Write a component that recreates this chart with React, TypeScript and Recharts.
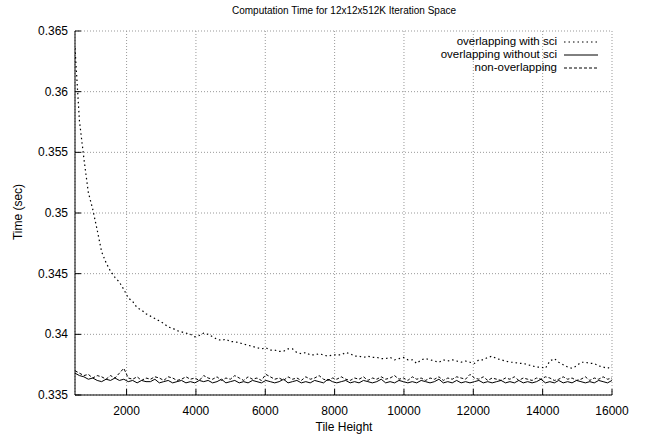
import React from "react";
import { LineChart, Line, XAxis, YAxis, CartesianGrid } from "recharts";

const tileHeights = [
  512, 640, 768, 896, 1024, 1152, 1280, 1408, 1536, 1664,
  1792, 1920, 2048, 2176, 2304, 2432, 2560, 2688, 2816, 2944,
  3072, 3200, 3328, 3456, 3584, 3712, 3840, 3968, 4096, 4224,
  4352, 4480, 4608, 4736, 4864, 4992, 5120, 5248, 5376, 5504,
  5632, 5760, 5888, 6016, 6144, 6272, 6400, 6528, 6656, 6784,
  6912, 7040, 7168, 7296, 7424, 7552, 7680, 7808, 7936, 8064,
  8192, 8320, 8448, 8576, 8704, 8832, 8960, 9088, 9216, 9344,
  9472, 9600, 9728, 9856, 9984, 10112, 10240, 10368, 10496, 10624,
  10752, 10880, 11008, 11136, 11264, 11392, 11520, 11648, 11776, 11904,
  12032, 12160, 12288, 12416, 12544, 12672, 12800, 12928, 13056, 13184,
  13312, 13440, 13568, 13696, 13824, 13952, 14080, 14208, 14336, 14464,
  14592, 14720, 14848, 14976, 15104, 15232, 15360, 15488, 15616, 15744,
  15872, 16000,
];

const withSci = [
  0.3636, 0.3576, 0.3545, 0.3517, 0.3503, 0.3486, 0.3468, 0.3459, 0.3452, 0.3447,
  0.3443, 0.3437, 0.343, 0.3427, 0.3422, 0.342, 0.3417, 0.3415, 0.3413, 0.3411,
  0.3409, 0.3406, 0.3405, 0.3403, 0.3402, 0.3401, 0.34, 0.3398, 0.3399, 0.3401,
  0.34, 0.3398, 0.3396, 0.3395, 0.3396, 0.3394, 0.3394, 0.3393, 0.3392, 0.3391,
  0.339, 0.3389, 0.3388, 0.3389, 0.3387, 0.3387, 0.3386, 0.3386, 0.3388, 0.3388,
  0.3385, 0.3384, 0.3385, 0.3383, 0.3383, 0.3384, 0.3383, 0.3382, 0.3383, 0.3383,
  0.3383, 0.3385, 0.3384, 0.3382, 0.3382, 0.3381, 0.3382, 0.3381, 0.3381, 0.338,
  0.338, 0.3381, 0.3379, 0.338, 0.3381, 0.3379, 0.3379, 0.3376, 0.3379, 0.338,
  0.3379, 0.3378, 0.3377, 0.3379, 0.3378, 0.3379, 0.3378, 0.3377, 0.3378, 0.3377,
  0.3376, 0.3379, 0.3379, 0.3381, 0.3382, 0.338, 0.3379, 0.3378, 0.3377, 0.3377,
  0.3376, 0.3376, 0.3375, 0.3374, 0.3373, 0.3373, 0.3372, 0.3378, 0.338, 0.3377,
  0.3375, 0.3373, 0.3372, 0.3374, 0.3377, 0.3377, 0.3376, 0.3376, 0.3374, 0.3373,
  0.3372, 0.3374,
];

const withoutSci = [
  0.3368, 0.3366, 0.3365, 0.3363, 0.3364, 0.3362, 0.3361, 0.3363, 0.3362, 0.3364,
  0.3362, 0.3363, 0.3361, 0.3362, 0.336, 0.3362, 0.3361, 0.3361, 0.3363, 0.336,
  0.3361, 0.3362, 0.336, 0.3361, 0.3362, 0.336, 0.3361, 0.336, 0.3362, 0.3361,
  0.3362, 0.336, 0.3361, 0.3363, 0.336, 0.3361, 0.3362, 0.336, 0.3361, 0.336,
  0.3362, 0.3361, 0.336, 0.3362, 0.3361, 0.336, 0.3361, 0.3363, 0.336, 0.3361,
  0.3362, 0.336, 0.3361, 0.336, 0.3362, 0.3361, 0.336, 0.3363, 0.3361, 0.336,
  0.3361, 0.3362, 0.336, 0.3361, 0.336, 0.3362, 0.3361, 0.336, 0.3361, 0.3363,
  0.336, 0.3361, 0.336, 0.3362, 0.3361, 0.336, 0.3361, 0.336, 0.3362, 0.3361,
  0.336, 0.3361, 0.3363, 0.336, 0.3361, 0.336, 0.3362, 0.336, 0.3361, 0.336,
  0.3361, 0.3362, 0.336, 0.3361, 0.336, 0.3361, 0.3362, 0.336, 0.3361, 0.336,
  0.3362, 0.336, 0.3361, 0.336, 0.3361, 0.3363, 0.336, 0.3361, 0.336, 0.3362,
  0.336, 0.3361, 0.336, 0.3362, 0.3361, 0.336, 0.3361, 0.336, 0.3362, 0.3361,
  0.336, 0.3362,
];

const nonOverlapping = [
  0.337, 0.3368, 0.3366, 0.3367, 0.3364, 0.3366, 0.3365, 0.3363, 0.3366, 0.3364,
  0.3368, 0.3372, 0.3364, 0.3363, 0.3365, 0.3362, 0.3364, 0.3363, 0.3365, 0.3364,
  0.3362, 0.3365, 0.3364, 0.3362, 0.3363, 0.3365, 0.3363, 0.3364, 0.3362, 0.3366,
  0.3364, 0.3363, 0.3365, 0.3362, 0.3364, 0.3363, 0.3366, 0.3364, 0.3362, 0.3365,
  0.3363, 0.3364, 0.3362, 0.3367, 0.3365, 0.3363, 0.3364, 0.3362, 0.3365, 0.3363,
  0.3364, 0.3362, 0.3365, 0.3363, 0.3364, 0.3366, 0.3363, 0.3362, 0.3364, 0.3363,
  0.3365, 0.3363, 0.3362, 0.3364, 0.3363, 0.3365, 0.3362, 0.3364, 0.3363, 0.3365,
  0.3363, 0.3364, 0.3366, 0.3363, 0.3364, 0.3362, 0.3365, 0.3363, 0.3364, 0.3362,
  0.3364, 0.3363, 0.3365, 0.3362, 0.3364, 0.3363, 0.3365, 0.3364, 0.3363, 0.3367,
  0.3364, 0.3363, 0.3365, 0.3362, 0.3364, 0.3363, 0.3362, 0.3364, 0.3363, 0.3365,
  0.3362, 0.3364, 0.3363, 0.3362, 0.3364, 0.3363, 0.3365, 0.3364, 0.3362, 0.3363,
  0.3365, 0.3363, 0.3364, 0.3362, 0.3363, 0.3365, 0.3362, 0.3364, 0.3363, 0.3365,
  0.3363, 0.3364,
];

const xTicks = [2000, 4000, 6000, 8000, 10000, 12000, 14000, 16000];
const yTicks = [0.335, 0.34, 0.345, 0.35, 0.355, 0.36, 0.365];

const FONT = "'Liberation Sans', Arial, Helvetica, sans-serif";
const FS = 12;

const data = tileHeights.map((h, i) => ({
  h,
  withSci: withSci[i],
  withoutSci: withoutSci[i],
  nonOverlapping: nonOverlapping[i],
}));

const BottomTick = (props: any) => {
  const { x, y, payload } = props;
  return (
    <g>
      <line x1={x} y1={y} x2={x} y2={y - 6} stroke="#000" />
      <text x={x} y={y + 20} textAnchor="middle" fontSize={FS} fontFamily={FONT} fill="#000">
        {payload.value}
      </text>
    </g>
  );
};

const TopTick = (props: any) => {
  const { x, y } = props;
  return <line x1={x} y1={y} x2={x} y2={y + 6} stroke="#000" />;
};

const LeftTick = (props: any) => {
  const { x, y, payload } = props;
  return (
    <g>
      <line x1={x} y1={y} x2={x + 6} y2={y} stroke="#000" />
      <text x={x - 7} y={y + 4} textAnchor="end" fontSize={FS} fontFamily={FONT} fill="#000">
        {String(payload.value)}
      </text>
    </g>
  );
};

const RightTick = (props: any) => {
  const { x, y } = props;
  return <line x1={x} y1={y} x2={x - 6} y2={y} stroke="#000" />;
};

const legendRows = [
  { label: "overlapping with sci", dash: "1.5 3" },
  { label: "overlapping without sci", dash: undefined },
  { label: "non-overlapping", dash: "3 2" },
];

export default function App() {
  return (
    <div style={{ position: "absolute", left: 0, top: 0, width: 648, height: 434, background: "#fff" }}>
      <div
        style={{
          position: "absolute",
          top: 5,
          left: 0,
          width: 688,
          textAlign: "center",
          fontFamily: FONT,
          fontSize: 10,
        }}
      >
        Computation Time for 12x12x512K Iteration Space
      </div>
      <div
        style={{
          position: "absolute",
          left: 18,
          top: 212,
          transform: "translate(-50%, -50%) rotate(-90deg)",
          whiteSpace: "nowrap",
          fontFamily: FONT,
          fontSize: FS,
        }}
      >
        Time (sec)
      </div>
      <div
        style={{
          position: "absolute",
          top: 420,
          left: 0,
          width: 688,
          textAlign: "center",
          fontFamily: FONT,
          fontSize: FS,
        }}
      >
        Tile Height
      </div>
      <div
        style={{
          position: "absolute",
          top: 35,
          right: 46,
          fontFamily: FONT,
          fontSize: 11.5,
          lineHeight: "13px",
          zIndex: 2,
        }}
      >
        {legendRows.map((r) => (
          <div key={r.label} style={{ display: "flex", justifyContent: "flex-end", alignItems: "center", height: 13 }}>
            <span>{r.label}</span>
            <svg width={40} height={12} style={{ marginLeft: 5 }}>
              <line x1={2} y1={6} x2={36} y2={6} stroke="#000" strokeWidth={1} strokeDasharray={r.dash} />
            </svg>
          </div>
        ))}
      </div>
      <LineChart width={648} height={434} data={data} margin={{ top: 31, right: 36, bottom: 0, left: 0 }}>
        <CartesianGrid stroke="#999" strokeDasharray="1 2" />
        <XAxis
          dataKey="h"
          type="number"
          domain={[512, 16000]}
          ticks={xTicks}
          allowDataOverflow
          height={39}
          tickSize={0}
          tickMargin={0}
          tickLine={false}
          axisLine={{ stroke: "#000" }}
          tick={<BottomTick />}
          interval={0}
        />
        <XAxis
          xAxisId="top"
          orientation="top"
          dataKey="h"
          type="number"
          domain={[512, 16000]}
          ticks={xTicks}
          allowDataOverflow
          height={0}
          tickSize={0}
          tickMargin={0}
          tickLine={false}
          axisLine={{ stroke: "#000" }}
          tick={<TopTick />}
          interval={0}
        />
        <YAxis
          type="number"
          domain={[0.335, 0.365]}
          ticks={yTicks}
          allowDataOverflow
          width={75}
          tickSize={0}
          tickMargin={0}
          tickLine={false}
          axisLine={{ stroke: "#000" }}
          tick={<LeftTick />}
          interval={0}
        />
        <YAxis
          yAxisId="right"
          orientation="right"
          type="number"
          domain={[0.335, 0.365]}
          ticks={yTicks}
          allowDataOverflow
          width={0}
          tickSize={0}
          tickMargin={0}
          tickLine={false}
          axisLine={{ stroke: "#000" }}
          tick={<RightTick />}
          interval={0}
        />
        <Line
          dataKey="withSci"
          stroke="#000"
          strokeWidth={1.2}
          strokeDasharray="1.5 3"
          dot={false}
          isAnimationActive={false}
          name="overlapping with sci"
        />
        <Line
          dataKey="withoutSci"
          stroke="#000"
          strokeWidth={1}
          dot={false}
          isAnimationActive={false}
          name="overlapping without sci"
        />
        <Line
          dataKey="nonOverlapping"
          stroke="#000"
          strokeWidth={1}
          strokeDasharray="3 2"
          dot={false}
          isAnimationActive={false}
          name="non-overlapping"
        />
      </LineChart>
    </div>
  );
}
